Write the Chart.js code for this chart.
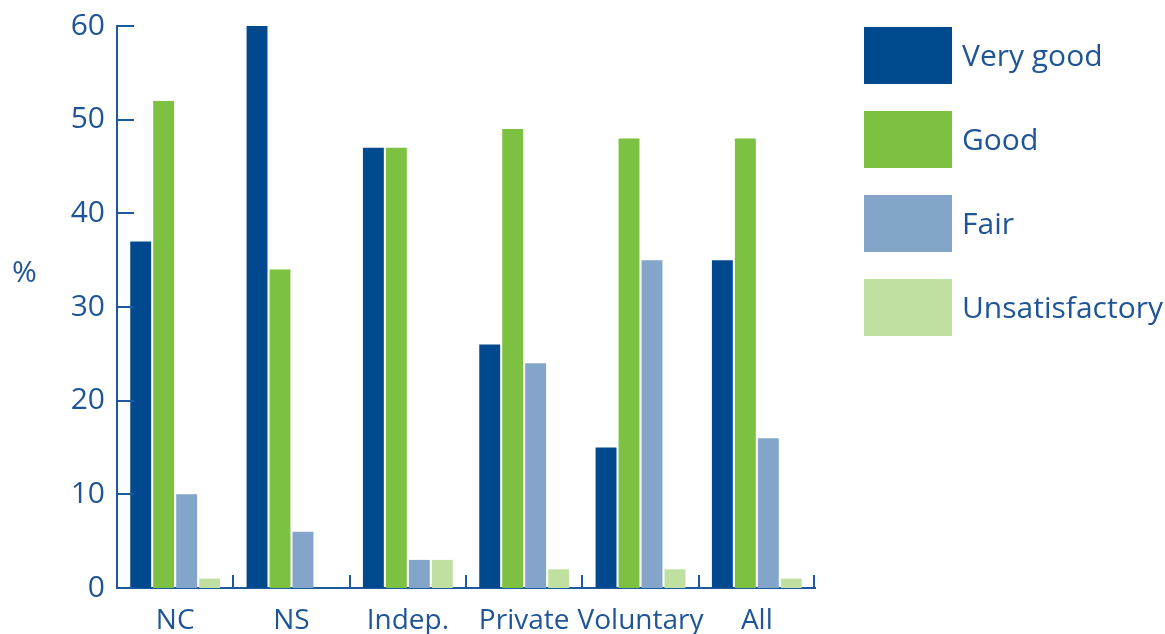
<!DOCTYPE html>
<html>
<head>
<meta charset="utf-8">
<script src="https://cdn.jsdelivr.net/npm/chart.js@4"></script>
<style>
  html, body { margin: 0; padding: 0; background: #fff; }
</style>
</head>
<body>
<canvas id="ratingChart" width="1165" height="634"></canvas>
<script>
const categories = ['NC', 'NS', 'Indep.', 'Private', 'Voluntary', 'All'];
const veryGood = [37, 60, 47, 26, 15, 35];
const good = [52, 34, 47, 49, 48, 48];
const fair = [10, 6, 3, 24, 35, 16];
const unsatisfactory = [1, 0, 3, 2, 2, 1];

const AXIS_COLOR = '#1d5a9c';
const TEXT_COLOR = '#1f5597';
const FONT = '"Open Sans", "Noto Sans", sans-serif';
const FONT_SIZE = 30;

// extra marks: inward y ticks, category dividers, "%" label and the legend
const axisExtras = {
    id: 'axisExtras',
    afterDraw(chart) {
        const { ctx, chartArea, scales: { x, y } } = chart;
        ctx.save();
        ctx.strokeStyle = AXIS_COLOR;
        ctx.lineWidth = 2;

        y.ticks.forEach(t => {
            const py = Math.round(y.getPixelForValue(t.value));
            ctx.beginPath();
            ctx.moveTo(chartArea.left, py);
            ctx.lineTo(chartArea.left + 17, py);
            ctx.stroke();
        });

        for (let i = 0; i < categories.length; i++) {
            const px = i < categories.length - 1
                ? Math.round((x.getPixelForValue(i) + x.getPixelForValue(i + 1)) / 2)
                : chartArea.right - 1;
            ctx.beginPath();
            ctx.moveTo(px, chartArea.bottom);
            ctx.lineTo(px, chartArea.bottom - 13);
            ctx.stroke();
        }

        ctx.fillStyle = TEXT_COLOR;
        ctx.font = FONT_SIZE + 'px ' + FONT;
        ctx.textAlign = 'left';
        ctx.textBaseline = 'middle';
        ctx.fillText('%', 12, 273);

        chart.data.datasets.forEach((ds, i) => {
            const top = 27 + i * 84;
            ctx.fillStyle = ds.backgroundColor;
            ctx.fillRect(864, top, 88, 57);
            ctx.fillStyle = TEXT_COLOR;
            ctx.fillText(ds.label, 962, top + 30);
        });
        ctx.restore();
    }
};

new Chart(document.getElementById('ratingChart'), {
    type: 'bar',
    data: {
        labels: categories,
        datasets: [
            { label: 'Very good', data: veryGood, backgroundColor: '#00498f' },
            { label: 'Good', data: good, backgroundColor: '#7dc142' },
            { label: 'Fair', data: fair, backgroundColor: '#82a5c9' },
            { label: 'Unsatisfactory', data: unsatisfactory, backgroundColor: '#bfe0a0' }
        ]
    },
    options: {
        responsive: false,
        animation: false,
        categoryPercentage: 0.79,
        barPercentage: 0.91,
        layout: { padding: { top: 26, right: 350, left: 0, bottom: 0 } },
        plugins: {
            legend: { display: false },
            tooltip: { enabled: false }
        },
        scales: {
            x: {
                grid: { display: false, drawTicks: false },
                border: { display: true, color: AXIS_COLOR, width: 2 },
                ticks: {
                    color: TEXT_COLOR,
                    font: { family: FONT, size: 28 },
                    padding: 16,
                    maxRotation: 0,
                    autoSkip: false
                },
                afterFit: s => {
                    s.height = 46;
                    s.paddingLeft = 0;
                    s.paddingRight = 0;
                }
            },
            y: {
                min: 0,
                max: 60,
                grid: { display: false, drawTicks: false },
                border: { display: true, color: AXIS_COLOR, width: 2 },
                ticks: {
                    stepSize: 10,
                    color: TEXT_COLOR,
                    font: { family: FONT, size: FONT_SIZE },
                    padding: 12
                },
                afterFit: s => {
                    s.width = 117;
                    s.paddingTop = 0;
                    s.paddingBottom = 0;
                }
            }
        }
    },
    plugins: [axisExtras]
});
</script>
</body>
</html>
